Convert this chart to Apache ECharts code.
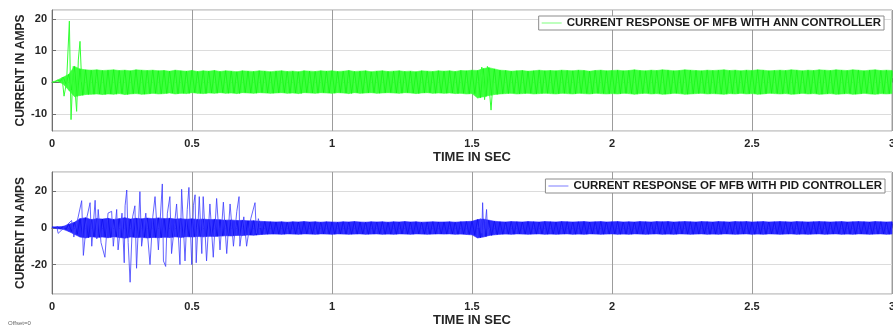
<!DOCTYPE html>
<html lang="en">
<head>
<meta charset="UTF-8">
<title>MFB current response</title>
<script src="https://cdn.jsdelivr.net/npm/echarts@6.0.0/dist/echarts.min.js"></script>
</head>
<body style="margin:0;background:#fff;">
<div id="main" style="width:893px;height:329px;"></div>
<script>
  // ripple envelope, one hi/lo pair every 20 ms (0 .. 3 s)
  var step = 0.02;

  var annHi = [
    0, 0.7, 1.6, 2.5, 5.0, 4.2, 3.9, 3.8, 3.9, 3.7,
    3.8, 3.9, 3.7, 3.8, 3.6, 3.9, 3.8, 3.7, 3.8, 3.6,
    3.7, 3.5, 3.8, 3.6, 3.5, 3.7, 3.4, 3.6, 3.5, 3.7,
    3.4, 3.6, 3.5, 3.3, 3.6, 3.5, 3.4, 3.6, 3.5, 3.3,
    3.5, 3.6, 3.4, 3.5, 3.3, 3.6, 3.5, 3.4, 3.6, 3.5,
    3.6, 3.4, 3.5, 3.7, 3.4, 3.5, 3.6, 3.3, 3.5, 3.6,
    3.4, 3.5, 3.6, 3.4, 3.5, 3.3, 3.6, 3.5, 3.4, 3.6,
    3.5, 3.6, 3.4, 3.7, 3.6, 3.8, 3.7, 4.3, 4.6, 4.2,
    3.8, 3.7, 3.5, 3.6, 3.7, 3.5, 3.6, 3.8, 3.6, 3.7,
    3.6, 3.8, 3.7, 3.6, 3.8, 3.7, 3.5, 3.7, 3.8, 3.6,
    3.7, 3.8, 3.6, 3.7, 3.9, 3.7, 3.6, 3.8, 3.7, 3.9,
    3.8, 3.6, 3.7, 3.9, 3.8, 3.7, 3.6, 3.8, 3.7, 3.8,
    3.9, 3.7, 3.8, 3.6, 3.8, 3.7, 3.9, 3.8, 3.6, 3.7,
    3.8, 3.7, 3.9, 3.8, 3.6, 3.8, 3.7, 3.9, 3.8, 3.7,
    3.9, 3.8, 3.7, 3.9, 3.8, 3.6, 3.8, 3.9, 3.7, 3.8,
    3.7
  ];
  var annLo = [
    0, 0.3, -0.6, -2.5, -4.5, -4.2, -3.9, -3.8, -3.7, -3.9,
    -3.7, -3.8, -3.6, -3.9, -3.7, -3.6, -3.8, -3.7, -3.5, -3.7,
    -3.6, -3.4, -3.7, -3.5, -3.6, -3.3, -3.5, -3.6, -3.4, -3.5,
    -3.3, -3.5, -3.4, -3.6, -3.3, -3.4, -3.5, -3.3, -3.4, -3.5,
    -3.4, -3.3, -3.5, -3.4, -3.6, -3.3, -3.4, -3.5, -3.3, -3.4,
    -3.5, -3.3, -3.4, -3.6, -3.3, -3.5, -3.4, -3.3, -3.5, -3.4,
    -3.3, -3.4, -3.5, -3.3, -3.4, -3.6, -3.4, -3.3, -3.5, -3.4,
    -3.5, -3.4, -3.6, -3.5, -3.7, -3.6, -5.0, -4.6, -4.2, -3.9,
    -3.7, -3.6, -3.5, -3.7, -3.6, -3.5, -3.7, -3.6, -3.5, -3.6,
    -3.7, -3.5, -3.6, -3.7, -3.5, -3.6, -3.7, -3.5, -3.6, -3.7,
    -3.6, -3.7, -3.5, -3.6, -3.8, -3.6, -3.5, -3.7, -3.6, -3.8,
    -3.7, -3.5, -3.6, -3.8, -3.7, -3.6, -3.5, -3.7, -3.6, -3.7,
    -3.8, -3.6, -3.7, -3.5, -3.7, -3.6, -3.8, -3.7, -3.5, -3.6,
    -3.7, -3.6, -3.8, -3.7, -3.5, -3.7, -3.6, -3.8, -3.7, -3.6,
    -3.8, -3.7, -3.6, -3.8, -3.7, -3.5, -3.7, -3.8, -3.6, -3.7,
    -3.6
  ];

  var pidHi = [
    0.5, 0.6, 0.8, 2.0, 3.0, 5.0, 5.5, 4.5, 5.0, 4.8,
    5.2, 4.6, 5.0, 5.5, 4.8, 5.2, 4.9, 5.3, 5.0, 5.4,
    5.0, 5.2, 4.8, 5.0, 4.7, 4.9, 4.6, 4.8, 4.5, 4.6,
    4.4, 4.2, 4.3, 4.0, 4.1, 3.8, 3.9, 3.6, 3.4, 3.3,
    3.2, 3.3, 3.1, 3.3, 3.2, 3.4, 3.2, 3.3, 3.1, 3.3,
    3.2, 3.1, 3.3, 3.2, 3.4, 3.2, 3.1, 3.3, 3.2, 3.3,
    3.1, 3.3, 3.2, 3.4, 3.2, 3.3, 3.1, 3.2, 3.3, 3.2,
    3.2, 3.3, 3.1, 3.3, 3.4, 3.6, 4.5, 4.8, 4.2, 3.6,
    3.3, 3.2, 3.4, 3.3, 3.2, 3.4, 3.3, 3.2, 3.4, 3.3,
    3.2, 3.4, 3.3, 3.2, 3.3, 3.4, 3.2, 3.3, 3.4, 3.2,
    3.3, 3.4, 3.2, 3.3, 3.2, 3.4, 3.3, 3.2, 3.4, 3.3,
    3.4, 3.2, 3.3, 3.4, 3.3, 3.2, 3.4, 3.3, 3.2, 3.4,
    3.3, 3.2, 3.4, 3.3, 3.4, 3.2, 3.3, 3.4, 3.2, 3.3,
    3.4, 3.3, 3.2, 3.4, 3.3, 3.2, 3.3, 3.4, 3.3, 3.2,
    3.3, 3.4, 3.2, 3.3, 3.4, 3.3, 3.2, 3.4, 3.3, 3.2,
    3.3
  ];
  var pidLo = [
    0.2, -0.5, -0.8, -2.0, -3.5, -5.0, -5.5, -4.8, -5.2, -5.0,
    -5.4, -4.8, -5.2, -5.6, -5.0, -5.3, -5.1, -5.5, -5.2, -5.4,
    -5.1, -5.3, -4.9, -5.2, -4.8, -5.0, -4.7, -4.9, -4.6, -4.7,
    -4.5, -4.3, -4.4, -4.1, -4.2, -3.9, -4.0, -3.7, -3.5, -3.4,
    -3.4, -3.5, -3.3, -3.4, -3.5, -3.3, -3.4, -3.5, -3.3, -3.4,
    -3.5, -3.3, -3.4, -3.5, -3.4, -3.3, -3.5, -3.4, -3.3, -3.5,
    -3.4, -3.5, -3.3, -3.4, -3.5, -3.3, -3.4, -3.5, -3.4, -3.3,
    -3.4, -3.3, -3.5, -3.4, -3.6, -3.8, -5.5, -5.0, -4.2, -3.8,
    -3.5, -3.4, -3.5, -3.3, -3.4, -3.5, -3.4, -3.3, -3.5, -3.4,
    -3.5, -3.4, -3.3, -3.5, -3.4, -3.5, -3.3, -3.4, -3.5, -3.4,
    -3.3, -3.5, -3.4, -3.5, -3.3, -3.4, -3.5, -3.4, -3.3, -3.5,
    -3.4, -3.5, -3.3, -3.4, -3.5, -3.4, -3.3, -3.5, -3.4, -3.5,
    -3.3, -3.4, -3.5, -3.4, -3.3, -3.5, -3.4, -3.5, -3.3, -3.4,
    -3.5, -3.4, -3.3, -3.5, -3.4, -3.5, -3.4, -3.3, -3.5, -3.4,
    -3.3, -3.5, -3.4, -3.5, -3.3, -3.4, -3.5, -3.4, -3.3, -3.5,
    -3.4
  ];

  // transient spikes (time in s, amps); null breaks the trace
  var annSpikeT = [0.036, 0.043, 0.052, 0.062, 0.068, 0.076, 0.088, 0.094, 0.100, 0.106, null,
                   1.525, 1.535, 1.545, 1.555, 1.568, 1.575];
  var annSpikeV = [1.5, -4.4, 0, 19.3, -11.8, 5, -9.2, 7, 12.9, 0, null,
                   0, 4.8, -5.5, 5, -8.8, 0];

  var pidSpikeT = [0.018, 0.022, 0.070, 0.078, 0.106, 0.112, 0.125, 0.136, 0.142, 0.154,
                   0.160, 0.165, 0.175, 0.189, 0.200, 0.213, 0.219, 0.231, 0.236, 0.250,
                   0.258, 0.261, 0.267, 0.272, 0.279, 0.288, 0.296, 0.302, 0.314, 0.320,
                   0.335, 0.350, 0.360, 0.368, 0.380, 0.394, 0.398, 0.406, 0.412, 0.421,
                   0.427, 0.445, 0.457, 0.463, 0.475, 0.483, 0.489, 0.499, 0.505, 0.511,
                   0.515, 0.526, 0.535, 0.540, 0.552, 0.564, 0.576, 0.588, 0.600, 0.612,
                   0.624, 0.636, 0.648, 0.660, 0.668, 0.671, 0.685, 0.695, 0.710, 0.725,
                   0.730, 0.737, 0.745, null,
                   1.525, 1.530, 1.535, 1.538, 1.542, 1.548, 1.552, 1.556, 1.562];
  var pidSpikeV = [0, -3, 4, -5, 14.8, -15, 6, 13.7, -10, 15,
                   -6, 10, -8, -16, 8, 9, -10, 10, -12, 8,
                   -19, 12, 20.6, -8, -29.6, 6, 12, -22, 19.7, -10,
                   8, -20, 6, 17, -12, 23.9, -18, -21, 8, 17,
                   -14, 13, -20, 21, -18, 10, 22, -20, 12, 18,
                   -19, 17, -14, 17, -18, 13, -16, 16, -12, 14,
                   -14, 13, -10, 9, 17, -10, 6, -10, 5, 13.7,
                   -3, 5, 0, null,
                   0, 5, -3, 13.7, -5, 3, 10, -4, 0];

  var annName = 'CURRENT RESPONSE OF MFB WITH ANN CONTROLLER';
  var pidName = 'CURRENT RESPONSE OF MFB WITH PID CONTROLLER';

  var tGrid = annHi.map(function (v, i) { return +(i * step).toFixed(2); });

  function pairs(xs, ys) {
    return xs.map(function (x, i) { return x === null ? [null, null] : [x, ys[i]]; });
  }
  // hi at each sample, lo half a step later: draws the ripple as a dense trace
  function ripple(hi, lo) {
    var out = [];
    tGrid.forEach(function (t, i) {
      out.push([t, hi[i]]);
      out.push([+(t + step / 2).toFixed(3), lo[i]]);
    });
    return out;
  }

  var txt = '#262626';
  var font = 'Liberation Sans';

  function xAx(gi) {
    return {
      type: 'value', gridIndex: gi, min: 0, max: 3, interval: 0.5,
      name: 'TIME IN SEC', nameLocation: 'middle', nameGap: 20,
      nameTextStyle: { fontSize: 13, fontWeight: 'bold', color: txt, fontFamily: font },
      axisLine: { show: true, lineStyle: { color: '#6e6e6e' } },
      axisTick: { show: true, inside: true, length: 4, lineStyle: { color: '#6e6e6e' } },
      axisLabel: { fontSize: 11, fontWeight: 'bold', color: txt, fontFamily: font, margin: 7,
                   hideOverlap: false },
      splitLine: { show: true, lineStyle: { color: '#9c9c9c' } }
    };
  }
  function yAx(gi, lo, hi, iv) {
    return {
      type: 'value', gridIndex: gi, min: lo, max: hi, minInterval: iv, maxInterval: iv,
      name: 'CURRENT IN AMPS', nameLocation: 'middle', nameGap: 25, nameMoveOverlap: false,
      nameTextStyle: { fontSize: 12, fontWeight: 'bold', color: txt, fontFamily: font },
      axisLine: { show: true, lineStyle: { color: '#6e6e6e' } },
      axisTick: { show: true, inside: true, length: 4, lineStyle: { color: '#6e6e6e' } },
      axisLabel: { fontSize: 11, fontWeight: 'bold', color: txt, fontFamily: font, margin: 5,
                   showMinLabel: false, showMaxLabel: false },
      splitLine: { show: true, lineStyle: { color: '#dcdcdc' } }
    };
  }
  function legend(name, col, right, top) {
    return {
      data: [{ name: name, icon: 'rect', itemStyle: { color: col } }],
      right: right, top: top, selectedMode: false,
      itemWidth: 20, itemHeight: 1,
      padding: [1, 3, 1, 3], borderColor: '#8c8c8c', borderWidth: 1, backgroundColor: '#fff',
      textStyle: { fontSize: 11.5, fontWeight: 'bold', color: '#1a1a1a', fontFamily: font }
    };
  }
  // solid ripple envelope between lo and hi, drawn segment by segment
  function band(gi, hi, lo, col) {
    return {
      type: 'custom', xAxisIndex: gi, yAxisIndex: gi, silent: true,
      data: tGrid.map(function (t, i) { return [t, hi[i], lo[i]]; }),
      encode: { x: 0, y: [1, 2] },
      renderItem: function (params, api) {
        var i = params.dataIndex;
        if (i >= tGrid.length - 1) return;
        var pts = [
          api.coord([tGrid[i], hi[i]]), api.coord([tGrid[i + 1], hi[i + 1]]),
          api.coord([tGrid[i + 1], lo[i + 1]]), api.coord([tGrid[i], lo[i]])
        ];
        return { type: 'polygon', shape: { points: pts },
                 style: { fill: col, stroke: col, lineWidth: 0.6 } };
      }
    };
  }

  var chart = echarts.init(document.getElementById('main'));
  chart.setOption({
    animation: false,
    backgroundColor: '#fff',
    grid: [
      { left: 52, right: 1, top: 10, height: 121, show: true, borderColor: '#a0a0a0', borderWidth: 1,
        outerBoundsMode: 'none', containLabel: false },
      { left: 52, right: 1, top: 172, height: 122, show: true, borderColor: '#a0a0a0', borderWidth: 1,
        outerBoundsMode: 'none', containLabel: false }
    ],
    xAxis: [xAx(0), xAx(1)],
    yAxis: [yAx(0, -15.4, 22.8, 10), yAx(1, -36, 30.4, 20)],
    legend: [legend(annName, '#7cff7c', 9, 16), legend(pidName, '#7c7cff', 8, 179)],
    graphic: [{ type: 'text', left: 8, top: 320,
                style: { text: 'Offset=0', fontSize: 6, fill: '#666', fontFamily: font } }],
    series: [
      band(0, annHi, annLo, '#3cff3c'),
      { type: 'line', name: annName, xAxisIndex: 0, yAxisIndex: 0, data: ripple(annHi, annLo),
        symbol: 'none', lineStyle: { color: '#00f000', width: 0.8, opacity: 0.6 }, itemStyle: { color: '#00ff00' } },
      { type: 'line', name: 'ann-spikes', xAxisIndex: 0, yAxisIndex: 0, data: pairs(annSpikeT, annSpikeV),
        symbol: 'none', connectNulls: false, lineStyle: { color: '#33ff33', width: 1 } },
      band(1, pidHi, pidLo, '#2a2aff'),
      { type: 'line', name: pidName, xAxisIndex: 1, yAxisIndex: 1, data: ripple(pidHi, pidLo),
        symbol: 'none', lineStyle: { color: '#0000e8', width: 0.8, opacity: 0.6 }, itemStyle: { color: '#0000ff' } },
      { type: 'line', name: 'pid-spikes', xAxisIndex: 1, yAxisIndex: 1, data: pairs(pidSpikeT, pidSpikeV),
        symbol: 'none', connectNulls: false, lineStyle: { color: '#3c3cff', width: 1, opacity: 0.8 } }
    ]
  });
</script>
</body>
</html>
